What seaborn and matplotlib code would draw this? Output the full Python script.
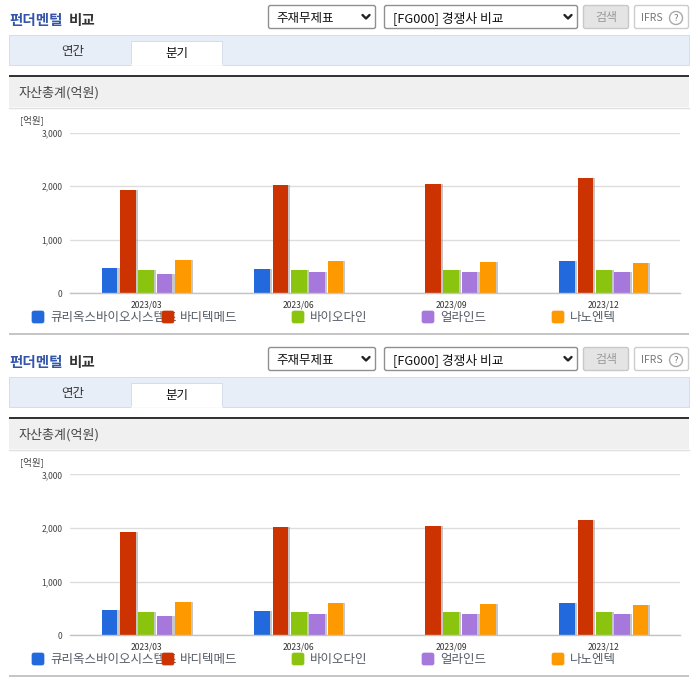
import matplotlib
matplotlib.use("Agg")
import matplotlib.pyplot as plt
import matplotlib.patheffects as pe
from matplotlib.patches import Rectangle, FancyBboxPatch, Circle
import numpy as np
import pandas as pd
import seaborn as sns

periods = ["2023/03", "2023/06", "2023/09", "2023/12"]
companies = ["큐리옥스바이오시스템즈", "바디텍메드", "바이오다인", "얼라인드", "나노엔텍"]
curiox = [480, 460, np.nan, 595]
boditech = [1930, 2020, 2040, 2155]
biodyne = [440, 440, 440, 440]
aligned = [365, 390, 390, 400]
nanoentek = [625, 605, 590, 570]
colors = ["#2269dd", "#cc3300", "#8bc40f", "#a678dc", "#ff9900"]
y_ticks = [0, 1000, 2000, 3000]
legend_x = [32, 162, 292, 422, 552]
text_x = [50, 180, 310, 440, 570]

W, H = 696, 684

sns.set_style("white")
plt.rcParams["font.family"] = ["Noto Sans CJK KR", "DejaVu Sans"]

df = pd.DataFrame({
    "period": periods * 5,
    "company": np.repeat(companies, 4),
    "value": curiox + boditech + biodyne + aligned + nanoentek,
})

fig = plt.figure(figsize=(W / 100, H / 100), dpi=100)
page = fig.add_axes([0, 0, 1, 1])
page.set_xlim(0, W)
page.set_ylim(H, 0)
page.axis("off")


def px(size):
    return size * 0.72


def box(x0, y0, x1, y1, face, edge="none", lw=1, round_=False):
    if round_:
        p = FancyBboxPatch((x0 + 2, y0 + 2), x1 - x0 - 4, y1 - y0 - 4,
                           boxstyle="round,pad=2", fc=face, ec=edge, lw=lw)
    else:
        p = Rectangle((x0, y0), x1 - x0, y1 - y0, fc=face, ec=edge, lw=lw)
    page.add_patch(p)
    return p


def label(x, y, s, size=13, color="#333333", ha="left", **kw):
    # the CJK font sits a little high when centred
    page.text(x, y + 1.2, s, fontsize=px(size), color=color, ha=ha, va="center", **kw)


def chevron(x, y):
    page.plot([x - 3.5, x, x + 3.5], [y - 2, y + 1.5, y - 2], color="#222222", lw=1.7)


def draw_panel(dy):
    # header
    label(9.5, 20 + dy, "펀더멘털", 14.5, "#3355aa", weight="bold")
    label(69, 20 + dy, "비교", 14.5, "#333333", weight="bold")
    box(268.5, 5.5 + dy, 375.5, 28.5 + dy, "white", "#8f8f8f", 1, True)
    label(276, 17 + dy, "주재무제표", 12.5, "#111111")
    chevron(366, 17 + dy)
    box(384.5, 5.5 + dy, 577.5, 28.5 + dy, "white", "#8f8f8f", 1, True)
    label(393, 17 + dy, "[FG000] 경쟁사 비교", 12.8, "#111111")
    chevron(568, 17 + dy)
    box(583.5, 5.5 + dy, 628.5, 28.5 + dy, "#e4e4e4", "#c8c8c8", 1, True)
    label(606, 16 + dy, "검색", 12, "#999999", ha="center")
    box(634.5, 5.5 + dy, 688.5, 28.5 + dy, "white", "#cccccc", 1, True)
    label(641, 17 + dy, "IFRS", 10.5, "#777777")
    page.add_patch(Circle((676, 18 + dy), 6.5, fc="white", ec="#aaaaaa", lw=1))
    label(676, 17 + dy, "?", 9.5, "#777777", ha="center")

    # tabs
    box(9, 35 + dy, 689, 65 + dy, "#e8eef7", "#d5dde8", 0.7)
    box(131, 40.5 + dy, 222, 65 + dy, "white", "#d5dde8", 0.7)
    page.plot([131.5, 221.5], [65 + dy, 65 + dy], color="white", lw=1.2)
    label(73, 50 + dy, "연간", 12.5, ha="center")
    label(177, 52 + dy, "분기", 12.5, "#111111", ha="center")

    # section title
    box(9, 75 + dy, 689, 77 + dy, "#333333")
    box(9, 77 + dy, 689, 107 + dy, "#f0f0f0")
    page.plot([9, 689], [107.5 + dy, 107.5 + dy], color="#e0e0e0", lw=1)
    label(19, 92 + dy, "자산총계(억원)", 13, "#444444")
    label(20, 119 + dy, "[억원]", 9.5, "#444444")

    # legend
    for i, name in enumerate(companies):
        label(text_x[i], 316 + dy, name, 12.5, "#555c66", zorder=2)
    for i, name in enumerate(companies):
        p = box(legend_x[i], 311 + dy, legend_x[i] + 12, 323 + dy, colors[i], colors[i], 0.5, True)
        p.set_zorder(3)

    # bottom rule
    box(9, 332.5 + dy, 689, 335 + dy, "#c6c6c6")

    # chart
    ax = fig.add_axes([70 / W, 1 - (293.3 + dy) / H, 610 / W, 160.8 / H])
    ax.patch.set_alpha(0)
    sns.barplot(data=df, x="period", y="value", hue="company", order=periods,
                hue_order=companies, palette=colors, width=0.6, gap=0.15,
                saturation=1, linewidth=0, legend=False, ax=ax)
    for bar in ax.patches:
        bar.set_path_effects([
            pe.SimplePatchShadow(offset=(1.6, 0), shadow_rgbFace="#999999", alpha=0.55),
            pe.Normal(),
        ])
    ax.set_xlim(-0.5, 3.5)
    ax.set_ylim(0, 3000)
    ax.set_xlabel("")
    ax.set_ylabel("")
    ax.set_yticks(y_ticks)
    ax.set_yticklabels([f"{v:,}" for v in y_ticks], fontsize=px(8.5), color="#444444")
    ax.set_xticks(np.arange(-0.5, 4), minor=True)
    ax.tick_params(axis="x", which="minor", length=3, width=0.8, color="#bbbbbb")
    ax.tick_params(axis="x", which="major", length=0, pad=5.5, labelsize=px(8.5), labelcolor="#333333")
    ax.tick_params(axis="y", length=0, pad=5.5)
    ax.grid(axis="y", color="#dddddd", lw=1)
    ax.set_axisbelow(True)
    sns.despine(ax=ax, left=True, top=True, right=True)
    ax.spines["bottom"].set_color("#c4c4c4")
    ax.spines["bottom"].set_linewidth(1)


draw_panel(0)
draw_panel(342)

fig.savefig("out.png", dpi=100, facecolor="white")
